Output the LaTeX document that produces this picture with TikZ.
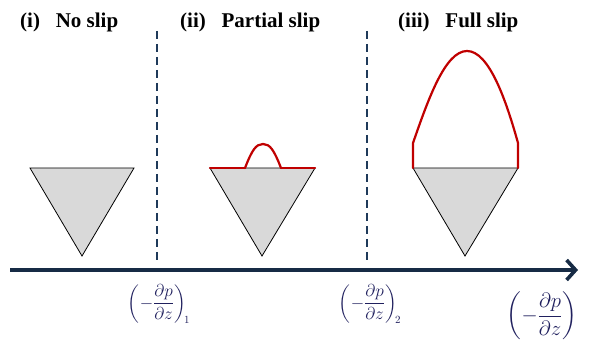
\documentclass[tikz,border=0pt]{standalone}
\usepackage{amsmath,amssymb}
\usepackage{fontspec}
\setmainfont{Liberation Serif}
\usepackage{tikz}
\usetikzlibrary{arrows.meta,positioning,calc}
\definecolor{axisnavy}{HTML}{172B45}
\definecolor{dashnavy}{HTML}{1F3A5A}
\definecolor{slipred}{HTML}{C00000}
\definecolor{cone}{HTML}{D9D9D9}
\definecolor{labink}{HTML}{20205E}

\tikzset{
  regime/.style={anchor=base west,inner sep=0pt,font=\fontsize{21}{24}\selectfont\bfseries},
  bound/.style={dashnavy,line width=2pt,dash pattern=on 8pt off 5pt},
  wedge/.style={draw=black,fill=cone,line width=0.8pt,line join=miter},
  profile/.style={slipred,line width=2.2pt,line cap=round,line join=round},
  gradlab/.style={text=labink,inner sep=0pt,font=\fontsize{16}{18}\selectfont}
}

\begin{document}
\begin{tikzpicture}[x=1pt,y=-1pt]
  \useasboundingbox (0,0) rectangle (591,347);

  % regime headings
  \node[regime] (hnone) at (20,28) {(i)\hspace{0.5em} No slip};
  \node[regime] (hpart) at (180,28) {(ii)\hspace{0.5em} Partial slip};
  \node[regime] (hfull) at (398,28) {(iii)\hspace{0.5em} Full slip};

  % regime boundaries
  \coordinate (b1top) at (157,31);
  \coordinate (b1bot) at (157,262);
  \coordinate (b2top) at (367,31);
  \coordinate (b2bot) at (367,262);
  \draw[bound] (b1top) -- (b1bot);
  \draw[bound] (b2top) -- (b2bot);

  % pressure gradient axis
  \coordinate (axstart) at (10,270);
  \coordinate (axend) at (578,270);
  \draw[axisnavy,line width=3.6pt,-{Straight Barb[length=9pt,width=20pt,line width=3.6pt]}]
    (axstart) -- (axend);

  % (i) no slip
  \draw[wedge] (30,168) -- (134,168) -- (82,256) -- cycle;

  % (ii) partial slip
  \draw[wedge] (210,168) -- (315,168) -- (262,256) -- cycle;
  \draw[profile] (210,168) -- (245,168);
  \draw[profile] (281,168) -- (315,168);
  \draw[profile] (245,168) .. controls (252,150) and (256,144) .. (263,144)
                           .. controls (270,144) and (274,150) .. (281,168);

  % (iii) full slip
  \draw[wedge] (413,168) -- (518,168) -- (465,256) -- cycle;
  \draw[profile] (413,168) -- (413,143)
    .. controls (428,100) and (445,51) .. (467,51)
    .. controls (489,51) and (506,100) .. (518,143) -- (518,168);

  % critical gradients
  \node[gradlab] (crit1) at (159,304) {$\left(-\dfrac{\partial p}{\partial z}\right)_{\!1}$};
  \node[gradlab] (crit2) at (370,304) {$\left(-\dfrac{\partial p}{\partial z}\right)_{\!2}$};
  \node[gradlab,font=\fontsize{20}{23}\selectfont] (gradz) at (542,316)
    {$\left(-\dfrac{\partial p}{\partial z}\right)$};
\end{tikzpicture}
\end{document}
